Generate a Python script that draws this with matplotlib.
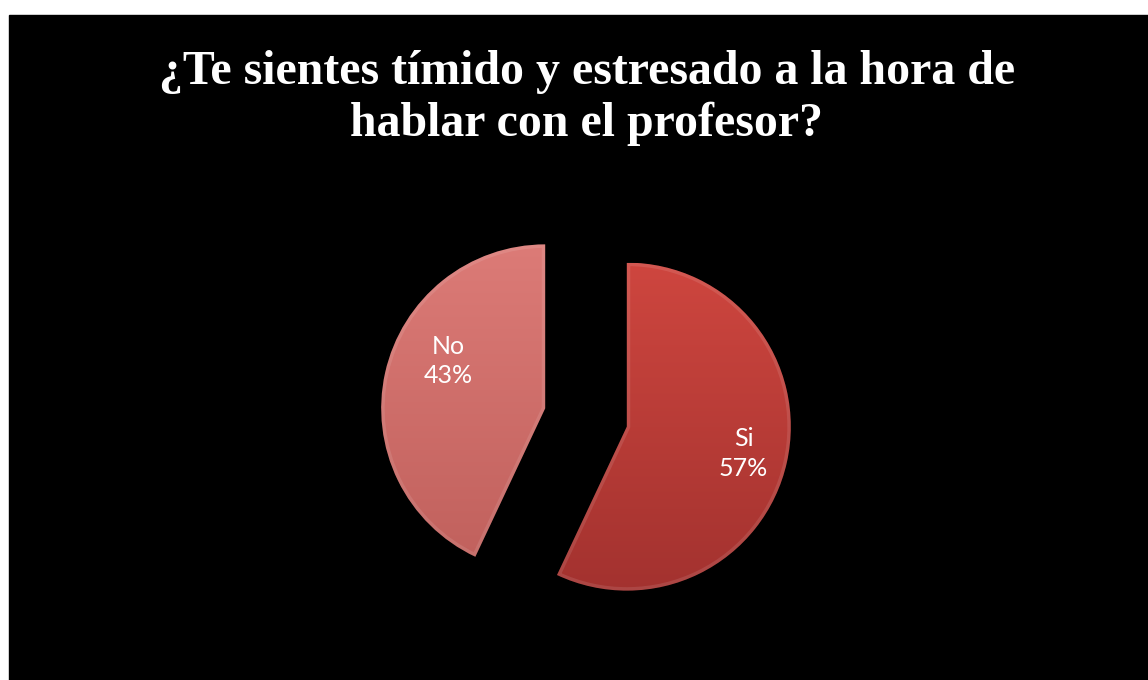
import numpy as np
import matplotlib; matplotlib.use("Agg")
import matplotlib.pyplot as plt
from matplotlib.colors import LinearSegmentedColormap
from matplotlib.patches import Rectangle, Wedge

# ---- data ----
title = "¿Te sientes tímido y estresado a la hora de\nhablar con el profesor?"
labels = ["Si", "No"]
values = [57, 43]
pcts = ["57%", "43%"]

# ---- style ----
W, H = 1148, 680
top_cols = ["#CE463F", "#DC7B77"]
bot_cols = ["#A3322F", "#C0605C"]
explode_frac = [0.255, 0.255]
lab_r = [0.73, 0.66]
lab_ang = [-13, 154]

fig = plt.figure(figsize=(W/100, H/100), dpi=100, facecolor="white")
fig.patches.append(Rectangle((9/W, 0), 1, (H-15)/H, transform=fig.transFigure, color="black", zorder=-5))
ax = fig.add_axes([0, 0, 1, 1], zorder=2); ax.set_facecolor("none")

center = (586, H-417.5); R = 164
wedges, _ = ax.pie(values, startangle=90, counterclock=False, explode=[e*R for e in explode_frac],
                   center=center, radius=R, wedgeprops=dict(lw=0))
ax.set_xlim(0, W); ax.set_ylim(0, H); ax.set_aspect("equal"); ax.axis("off")

for i, w in enumerate(wedges):
    w.set_facecolor("none")
    cx, cy = w.center
    cmap = LinearSegmentedColormap.from_list("g", [bot_cols[i], top_cols[i]])
    grad = np.linspace(0, 1, 256).reshape(-1, 1)
    im = ax.imshow(grad, cmap=cmap, origin="lower", aspect="auto",
                   extent=(cx-R, cx+R, cy-R, cy+R), zorder=1)
    im.set_clip_path(w)
    # soft bevel: light rim just inside the edge, clipped to the slice
    rim = Wedge((cx, cy), R, w.theta1, w.theta2, fc="none", ec="white", lw=5, alpha=0.10, zorder=2)
    ax.add_patch(rim); rim.set_clip_path(w)
    a = np.deg2rad(lab_ang[i])
    ax.text(cx + lab_r[i]*R*np.cos(a), cy + lab_r[i]*R*np.sin(a), f"{labels[i]}\n{pcts[i]}",
            ha="center", va="center", color="white", fontsize=18, family="Lato",
            linespacing=1.35, zorder=3)
ax.set_xlim(0, W); ax.set_ylim(0, H)

fig.text(587/W, 1-98/H, title, ha="center", va="center", color="white",
         fontsize=34.5, fontweight="bold", family="Liberation Serif", linespacing=1.23)

fig.savefig("out.png", dpi=100, facecolor="white")
